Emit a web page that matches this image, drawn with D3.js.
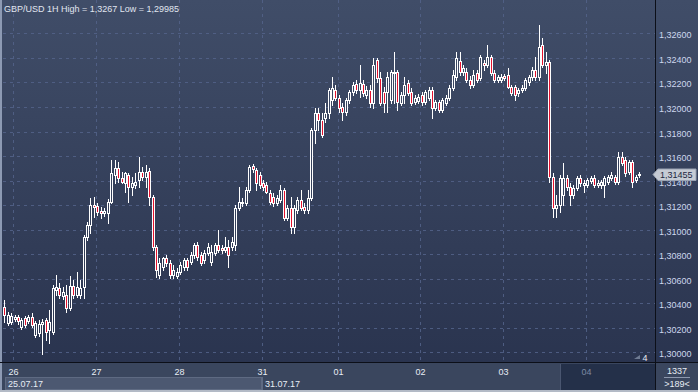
<!DOCTYPE html>
<html><head><meta charset="utf-8">
<script src="https://cdn.jsdelivr.net/npm/d3@7"></script>
<style>html,body{margin:0;padding:0;background:#2e3954;overflow:hidden}svg{display:block;font-family:"Liberation Sans",Arial,sans-serif}</style>
</head><body><svg id="c" width="698" height="392"></svg>
<script>
const title = "GBP/USD 1H High = 1,3267 Low = 1,29985";
const open = [
1.30367,1.30237,1.30245,1.30269,1.30286,1.30204,1.30277,1.30253,1.30286,1.30139,
1.30155,1.30228,1.30261,1.30180,1.30163,1.30506,1.30522,1.30457,1.30465,1.30359,
1.30539,1.30465,1.30465,1.30530,1.30938,1.31036,1.31200,1.31191,1.31151,1.31134,
1.31134,1.31224,1.31444,1.31501,1.31420,1.31379,1.31444,1.31346,1.31363,1.31404,
1.31469,1.31428,1.31477,1.31265,1.30857,1.30628,1.30694,1.30767,1.30726,1.30628,
1.30620,1.30653,1.30694,1.30751,1.30734,1.30792,1.30873,1.30792,1.30751,1.30808,
1.30734,1.30808,1.30873,1.30849,1.30832,1.30857,1.30857,1.30873,1.31175,1.31224,
1.31216,1.31322,1.31518,1.31485,1.31444,1.31379,1.31363,1.31297,1.31265,1.31216,
1.31240,1.31322,1.31093,1.31175,1.31020,1.31159,1.31240,1.31183,1.31159,1.31257,
1.31812,1.31950,1.31893,1.31909,1.31950,1.32056,1.32138,1.32073,1.31999,1.31958,
1.32056,1.32122,1.32187,1.32138,1.32187,1.32097,1.32138,1.32032,1.32383,1.32236,
1.32122,1.32122,1.32056,1.32277,1.32285,1.32032,1.32097,1.32195,1.32122,1.32040,
1.32048,1.32097,1.32040,1.32073,1.32138,1.31991,1.32040,1.31975,1.32032,1.32073,
1.32154,1.32244,1.32375,1.32285,1.32285,1.32220,1.32179,1.32277,1.32236,1.32358,
1.32342,1.32407,1.32277,1.32220,1.32220,1.32252,1.32260,1.32162,1.32162,1.32113,
1.32138,1.32154,1.32203,1.32244,1.32301,1.32244,1.32505,1.32342,1.32366,1.31428,
1.31175,1.31200,1.31281,1.31420,1.31346,1.31281,1.31338,1.31420,1.31363,1.31363,
1.31396,1.31420,1.31363,1.31363,1.31363,1.31387,1.31420,1.31428,1.31387,1.31591,
1.31567,1.31469,1.31550,1.31404,1.31444];
const high = [
1.30424,1.30326,1.30318,1.30302,1.30302,1.30277,1.30294,1.30302,1.30318,1.30253,
1.30261,1.30269,1.30277,1.30343,1.30547,1.30628,1.30563,1.30530,1.30547,1.30620,
1.30588,1.30653,1.30588,1.30955,1.31061,1.31257,1.31265,1.31216,1.31183,1.31175,
1.31248,1.31567,1.31567,1.31550,1.31469,1.31469,1.31461,1.31428,1.31461,1.31591,
1.31510,1.31526,1.31501,1.31281,1.30873,1.30767,1.30775,1.30792,1.30751,1.30710,
1.30685,1.30734,1.30767,1.30767,1.30816,1.30889,1.30898,1.30816,1.30832,1.30889,
1.30873,1.30889,1.30996,1.30873,1.30938,1.30914,1.30938,1.31200,1.31346,1.31257,
1.31346,1.31526,1.31534,1.31501,1.31469,1.31404,1.31387,1.31322,1.31297,1.31281,
1.31363,1.31338,1.31200,1.31265,1.31200,1.31265,1.31322,1.31216,1.31322,1.31828,
1.31991,1.31991,1.31950,1.32032,1.32154,1.32244,1.32179,1.32097,1.32032,1.32073,
1.32138,1.32203,1.32220,1.32342,1.32220,1.32171,1.32179,1.32399,1.32399,1.32285,
1.32162,1.32285,1.32301,1.32448,1.32301,1.32122,1.32244,1.32220,1.32154,1.32097,
1.32105,1.32122,1.32138,1.32162,1.32162,1.32056,1.32056,1.32073,1.32097,1.32179,
1.32301,1.32448,1.32448,1.32342,1.32317,1.32252,1.32301,1.32301,1.32424,1.32383,
1.32505,1.32424,1.32301,1.32260,1.32268,1.32268,1.32317,1.32179,1.32179,1.32154,
1.32179,1.32236,1.32260,1.32326,1.32407,1.32670,1.32562,1.32448,1.32383,1.31461,
1.31281,1.31444,1.31542,1.31444,1.31379,1.31363,1.31436,1.31444,1.31404,1.31420,
1.31436,1.31444,1.31404,1.31404,1.31436,1.31444,1.31469,1.31444,1.31632,1.31632,
1.31591,1.31567,1.31567,1.31444,1.31469];
const low = [
1.30245,1.30220,1.30228,1.30253,1.30228,1.30188,1.30204,1.30237,1.30204,1.30122,
1.30131,1.29985,1.30098,1.30073,1.30147,1.30465,1.30441,1.30432,1.30326,1.30343,
1.30441,1.30449,1.30441,1.30441,1.30914,1.30971,1.31102,1.31118,1.31093,1.31110,
1.31053,1.31216,1.31379,1.31387,1.31379,1.31306,1.31224,1.31281,1.31338,1.31346,
1.31404,1.31346,1.31200,1.30832,1.30612,1.30604,1.30669,1.30702,1.30604,1.30604,
1.30604,1.30636,1.30669,1.30669,1.30718,1.30767,1.30751,1.30710,1.30726,1.30792,
1.30710,1.30792,1.30816,1.30808,1.30816,1.30694,1.30832,1.30832,1.31159,1.31191,
1.31200,1.31306,1.31469,1.31322,1.31338,1.31322,1.31297,1.31208,1.31191,1.31200,
1.31224,1.31077,1.31077,1.30971,1.30971,1.31134,1.31159,1.31134,1.31134,1.31240,
1.31705,1.31812,1.31754,1.31877,1.31909,1.32016,1.32056,1.31958,1.31893,1.31934,
1.32032,1.32097,1.32113,1.32081,1.32089,1.32073,1.31999,1.31991,1.32203,1.32016,
1.31958,1.31958,1.32032,1.32032,1.31975,1.32016,1.32032,1.32097,1.32016,1.32024,
1.32032,1.32016,1.32024,1.32056,1.31909,1.31975,1.31958,1.31958,1.32016,1.32056,
1.32138,1.32220,1.32260,1.32260,1.32203,1.32154,1.32162,1.32203,1.32220,1.32301,
1.32326,1.32260,1.32203,1.32203,1.32203,1.32220,1.32154,1.32097,1.32056,1.32089,
1.32122,1.32138,1.32179,1.32220,1.32220,1.32220,1.32326,1.32277,1.31387,1.31102,
1.31102,1.31142,1.31200,1.31322,1.31200,1.31257,1.31322,1.31355,1.31306,1.31346,
1.31379,1.31346,1.31346,1.31338,1.31265,1.31371,1.31404,1.31371,1.31371,1.31526,
1.31436,1.31452,1.31346,1.31387,1.31428];
const close = [
1.30302,1.30302,1.30294,1.30286,1.30253,1.30261,1.30220,1.30286,1.30220,1.30237,
1.30228,1.30245,1.30163,1.30245,1.30522,1.30530,1.30465,1.30490,1.30359,1.30539,
1.30465,1.30530,1.30522,1.30938,1.31036,1.31200,1.31183,1.31142,1.31134,1.31151,
1.31224,1.31461,1.31501,1.31420,1.31387,1.31461,1.31346,1.31379,1.31387,1.31469,
1.31428,1.31469,1.31265,1.30857,1.30669,1.30726,1.30767,1.30726,1.30628,1.30669,
1.30653,1.30710,1.30751,1.30694,1.30792,1.30873,1.30775,1.30726,1.30808,1.30857,
1.30816,1.30873,1.30832,1.30832,1.30857,1.30792,1.30898,1.31175,1.31224,1.31216,
1.31322,1.31510,1.31493,1.31379,1.31363,1.31346,1.31306,1.31224,1.31216,1.31257,
1.31322,1.31093,1.31175,1.31020,1.31175,1.31240,1.31175,1.31159,1.31257,1.31812,
1.31950,1.31893,1.31771,1.31950,1.32138,1.32154,1.32073,1.31991,1.31958,1.32056,
1.32122,1.32179,1.32138,1.32195,1.32113,1.32138,1.32032,1.32342,1.32236,1.32032,
1.32032,1.32244,1.32285,1.32285,1.32040,1.32097,1.32179,1.32113,1.32032,1.32073,
1.32081,1.32040,1.32122,1.32138,1.31991,1.32040,1.31975,1.32056,1.32073,1.32154,
1.32260,1.32399,1.32285,1.32317,1.32220,1.32179,1.32260,1.32220,1.32407,1.32342,
1.32407,1.32277,1.32220,1.32244,1.32244,1.32236,1.32162,1.32113,1.32097,1.32138,
1.32154,1.32220,1.32244,1.32301,1.32244,1.32489,1.32342,1.32366,1.31428,1.31175,
1.31200,1.31420,1.31420,1.31346,1.31281,1.31338,1.31420,1.31379,1.31379,1.31404,
1.31420,1.31363,1.31379,1.31387,1.31420,1.31428,1.31444,1.31387,1.31591,1.31542,
1.31461,1.31550,1.31387,1.31428,1.31455];
const yTicks = [1.300,1.302,1.304,1.306,1.308,1.310,1.312,1.314,1.316,1.318,1.320,1.322,1.324,1.326];
const dayLabels = ["26","27","28","31","01","02","03","04"];
const daySlots = [3,27,51,75,97,121,145,169];
const dateLabels = ["25.07.17","31.07.17"];
const lastPrice = 1.31455;
const slotCount = 189;
const barCount = "1337";
const visibleBars = ">189<";

const svg = d3.select("#c");
const PR = 655, PB = 362;
const x = d3.scaleBand().domain(d3.range(slotCount)).range([3, PR]);
const y = d3.scaleLinear().domain([1.300, 1.326]).range([352.3, 33.4]);
const fmt = v => d3.format(".5f")(v).replace(".", ",");

const defs = svg.append("defs");
const gr = defs.append("linearGradient").attr("id","bg").attr("gradientUnits","userSpaceOnUse")
  .attr("x1",0).attr("y1",0).attr("x2",0).attr("y2",PB);
gr.append("stop").attr("offset",0).attr("stop-color","#404d68");
gr.append("stop").attr("offset",1).attr("stop-color","#2a344f");

// backgrounds
svg.append("rect").attr("x",0).attr("y",0).attr("width",698).attr("height",392).attr("fill","#39455d");
svg.append("rect").attr("x",0).attr("y",0).attr("width",698).attr("height",PB).attr("fill","url(#bg)");

// grid
const grid = svg.append("g").attr("stroke","#54638a").attr("stroke-opacity",0.85).attr("stroke-width",1).attr("stroke-dasharray","3,4");
yTicks.forEach(v => {
  const yy = Math.round(y(v)) + 0.5;
  grid.append("line").attr("x1",3).attr("x2",PR).attr("y1",yy).attr("y2",yy);
});
daySlots.forEach(s => {
  const xx = Math.round(x(s)) + 0.5;
  grid.append("line").attr("x1",xx).attr("x2",xx).attr("y1",0).attr("y2",PB);
});

// candles
const cg = svg.append("g").attr("shape-rendering","crispEdges");
const step = x.step();
open.forEach((o,i) => {
  const c = close[i], h = high[i], l = low[i];
  const cx = Math.round(x(i) + step/2 - 0.5);
  const yo = Math.round(y(o)), yc = Math.round(y(c)), yh = Math.round(y(h)), yl = Math.round(y(l));
  const top = Math.min(yo,yc), bot = Math.max(yo,yc);
  cg.append("rect").attr("x",cx).attr("y",yh).attr("width",1).attr("height",yl-yh+1).attr("fill","#ffffff");
  cg.append("rect").attr("x",cx-1).attr("y",top).attr("width",3).attr("height",bot-top+1).attr("fill","#ffffff");
  if (bot - top >= 2) {
    cg.append("rect").attr("x",cx).attr("y",top+1).attr("width",1).attr("height",bot-top-1)
      .attr("fill", c < o ? "#e4122e" : "url(#bg)");
  }
});

// frame lines
svg.append("rect").attr("x",0).attr("y",0).attr("width",2).attr("height",392).attr("fill","#8d9ab3");
svg.append("rect").attr("x",0).attr("y",PB).attr("width",698).attr("height",1).attr("fill","#0c0f18");
svg.append("rect").attr("x",PR).attr("y",0).attr("width",1).attr("height",392).attr("fill","#0c0f18");

// right axis labels
const ax = svg.append("g").attr("font-size",9).attr("fill","#cdd8ee");
yTicks.forEach(v => {
  ax.append("text").attr("x",659).attr("y",Math.round(y(v))+4.5).text(fmt(v));
});

// last price tag
const ly = Math.round(y(lastPrice)) + 0.5;
svg.append("path").attr("d",`M653,${ly} L658,${ly-5.5} L696,${ly-5.5} L696,${ly+6} L658,${ly+6} Z`)
  .attr("fill","#c6cbd4").attr("stroke","#9aa3b3");
svg.append("text").attr("x",660).attr("y",ly+3.5).attr("font-size",9).attr("fill","#1d2840").text(fmt(lastPrice));

// bottom time axis
const bt = svg.append("g");
bt.append("rect").attr("x",2).attr("y",PB+1).attr("width",PR-2).attr("height",392-PB-3).attr("fill","#3a465e");
bt.append("rect").attr("x",5.5).attr("y",377.5).attr("width",256).attr("height",12).attr("fill","#4c5871").attr("stroke","#5e6a82");
bt.append("line").attr("x1",262.5).attr("x2",262.5).attr("y1",377).attr("y2",390).attr("stroke","#5e6a82");
bt.append("rect").attr("x",561).attr("y",PB+2).attr("width",PR-561).attr("height",26).attr("fill","#243049");
bt.append("line").attr("x1",560.5).attr("x2",560.5).attr("y1",PB+2).attr("y2",390).attr("stroke","#4a5670");
daySlots.forEach((s,k) => {
  bt.append("text").attr("x",Math.round(x(s))+0.5).attr("y",374.5).attr("text-anchor","middle")
    .attr("font-size",9).attr("fill", k === daySlots.length-1 ? "#7d8aa3" : "#e8edf5").text(dayLabels[k]);
});
bt.append("text").attr("x",8).attr("y",386.5).attr("font-size",9).attr("fill","#e8edf5").text(dateLabels[0]);
bt.append("text").attr("x",265).attr("y",386.5).attr("font-size",9).attr("fill","#e8edf5").text(dateLabels[1]);
svg.append("rect").attr("x",0).attr("y",390).attr("width",698).attr("height",2).attr("fill","#b3bac6");

// bar counter bottom right
svg.append("rect").attr("x",PR+1).attr("y",PB+1).attr("width",698-PR-1).attr("height",27).attr("fill","#3a465e");
svg.append("text").attr("x",677).attr("y",373.5).attr("text-anchor","middle").attr("font-size",9).attr("fill","#e8edf5").text(barCount);
svg.append("line").attr("x1",664).attr("x2",690).attr("y1",377.5).attr("y2",377.5).attr("stroke","#8d98ae");
svg.append("text").attr("x",677).attr("y",387).attr("text-anchor","middle").attr("font-size",9).attr("fill","#e8edf5").text(visibleBars);

// small marker "4"
svg.append("path").attr("d","M634,359 L640,359 L640,355 Z").attr("fill","#6f7b92");
svg.append("text").attr("x",645).attr("y",361).attr("text-anchor","middle").attr("font-size",9).attr("fill","#e8edf5").text("4");

// title
svg.append("text").attr("x",4).attr("y",11.5).attr("font-size",9).attr("fill","#e0e6f0").text(title);
</script></body></html>
